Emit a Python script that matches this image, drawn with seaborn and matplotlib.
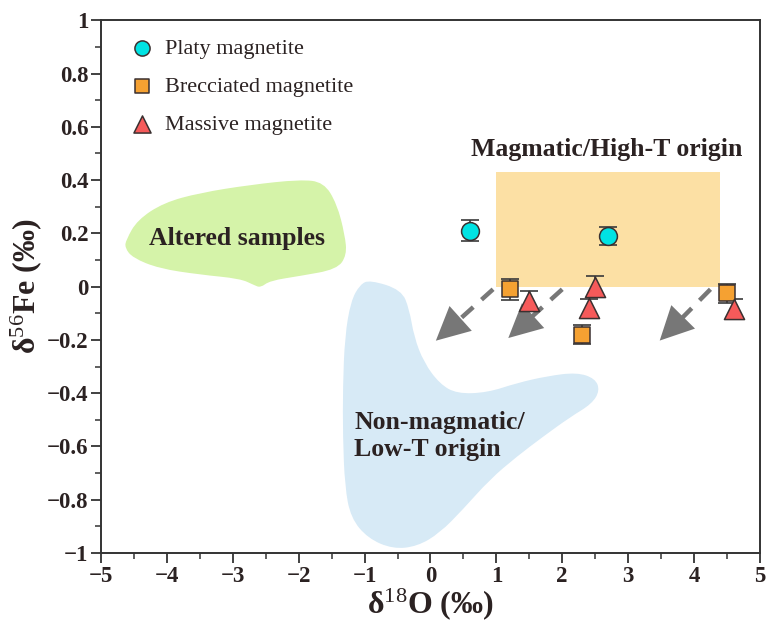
import numpy as np
import pandas as pd
import matplotlib
matplotlib.use("Agg")
import matplotlib.pyplot as plt
from matplotlib.patches import PathPatch, Rectangle
from matplotlib.path import Path
import seaborn as sns

# ---- data ----
platy_x = [0.6, 2.7]
platy_y = [0.21, 0.19]
platy_err = [0.04, 0.035]

brecc_x = [1.2, 2.3, 4.5]
brecc_y = [-0.01, -0.18, -0.025]
brecc_err = [0.04, 0.035, 0.035]

massive_x = [1.5, 2.4, 2.5, 4.6]
massive_y = [-0.053, -0.08, 0.0, -0.083]
massive_err = [0.035, 0.035, 0.04, 0.035]

series_names = ["Platy magnetite", "Brecciated magnetite", "Massive magnetite"]

# field outlines (δ18O, δ56Fe), used as control points of a smooth closed curve
altered_x = [-4.62, -4.45, -4.05, -3.50, -2.74, -1.98, -1.62, -1.42, -1.30, -1.27,
             -1.42, -1.98, -2.44, -2.58, -2.68, -2.89, -3.50, -4.12, -4.52, -4.64]
altered_y = [0.176, 0.250, 0.315, 0.352, 0.382, 0.402, 0.392, 0.310, 0.195, 0.118,
             0.065, 0.040, 0.022, -0.004, 0.006, 0.030, 0.045, 0.068, 0.108, 0.146]

lowt_x = [-0.92, -0.44, -0.32, -0.25, -0.10, 0.14, 0.40, 0.86, 1.31, 1.77, 2.22,
          2.50, 2.57, 2.45, 2.12, 1.71, 1.31, 0.90, 0.49, 0.14, -0.20, -0.57,
          -0.95, -1.21, -1.30, -1.33, -1.33, -1.30, -1.21, -1.07]
lowt_y = [0.025, -0.012, -0.086, -0.188, -0.285, -0.365, -0.402, -0.398, -0.362,
          -0.336, -0.322, -0.345, -0.390, -0.440, -0.490, -0.563, -0.638, -0.724,
          -0.837, -0.925, -0.975, -0.985, -0.945, -0.868, -0.750, -0.563, -0.375,
          -0.188, -0.055, 0.008]

# magmatic box: x range and y range
magmatic_x = [1.0, 4.4]
magmatic_y = [0.0, 0.43]

# arrows: start and end points
arrow_start_x = [0.95, 2.0, 4.25]
arrow_start_y = [-0.01, -0.01, -0.01]
arrow_end_x = [0.05, 1.15, 3.45]
arrow_end_y = [-0.21, -0.20, -0.21]


def smooth_closed_path(xs, ys):
    """Closed quadratic B-spline through the midpoints of the given polygon."""
    pts = np.column_stack([xs, ys])
    mids = (pts + np.roll(pts, -1, axis=0)) / 2.0
    verts = [mids[-1]]
    codes = [Path.MOVETO]
    for p, m in zip(pts, mids):
        verts += [p, m]
        codes += [Path.CURVE3, Path.CURVE3]
    verts.append(mids[-1])
    codes.append(Path.CLOSEPOLY)
    return Path(np.array(verts), codes)


def fmt_tick(v):
    v = round(float(v), 1) + 0.0
    return f"{v:g}".replace("-", "\u2212")


# ---- styling ----
sns.set_theme(style="ticks")
plt.rcParams["font.family"] = ["Liberation Serif", "DejaVu Serif"]
plt.rcParams["mathtext.fontset"] = "custom"
plt.rcParams["mathtext.rm"] = "Liberation Serif"
plt.rcParams["mathtext.it"] = "Liberation Serif"
plt.rcParams["mathtext.bf"] = "Liberation Serif:bold"

ink = "#2b2222"
fig = plt.figure(figsize=(7.66, 6.32), dpi=100)
ax = fig.add_axes([0.132, 0.125, 0.860, 0.843])

# fields
ax.add_patch(PathPatch(smooth_closed_path(altered_x, altered_y),
                       facecolor="#d5f3a9", edgecolor="none", zorder=1))
ax.add_patch(PathPatch(smooth_closed_path(lowt_x, lowt_y),
                       facecolor="#d7eaf6", edgecolor="none", zorder=1))
ax.add_patch(Rectangle((magmatic_x[0], magmatic_y[0]),
                       magmatic_x[1] - magmatic_x[0], magmatic_y[1] - magmatic_y[0],
                       facecolor="#fce0a4", edgecolor="none", zorder=1))

# dashed arrows
arrow_col = "#777777"
for sx, sy, ex, ey in zip(arrow_start_x, arrow_start_y, arrow_end_x, arrow_end_y):
    fx = sx + (ex - sx) * 0.8
    fy = sy + (ey - sy) * 0.8
    ax.plot([sx, fx], [sy, fy], color=arrow_col, lw=3.2, ls=(0, (3.5, 2.5)),
            solid_capstyle="butt", zorder=2)
    ax.annotate("", xy=(ex, ey), xytext=(fx, fy),
                arrowprops=dict(arrowstyle="-|>,head_length=1.2,head_width=0.6",
                                color=arrow_col, lw=0, mutation_scale=20),
                zorder=2)

# error bars
err_kw = dict(fmt="none", ecolor="#3a3a3a", elinewidth=1.2, capsize=6.5,
              capthick=1.2, zorder=3)
ax.errorbar(platy_x, platy_y, yerr=platy_err, **err_kw)
ax.errorbar(brecc_x, brecc_y, yerr=brecc_err, **err_kw)
ax.errorbar(massive_x, massive_y, yerr=massive_err, **err_kw)

# points
df = pd.concat([
    pd.DataFrame({"x": platy_x, "y": platy_y, "type": series_names[0]}),
    pd.DataFrame({"x": brecc_x, "y": brecc_y, "type": series_names[1]}),
    pd.DataFrame({"x": massive_x, "y": massive_y, "type": series_names[2]}),
])
palette = {series_names[0]: "#00e3e3", series_names[1]: "#f5a132",
           series_names[2]: "#f55a5a"}
markers = {series_names[0]: "o", series_names[1]: "s", series_names[2]: "^"}
sizes = {series_names[0]: 165, series_names[1]: 130, series_names[2]: 210}
for name in series_names:
    sub = df[df["type"] == name]
    sns.scatterplot(data=sub, x="x", y="y", color=palette[name], marker=markers[name],
                    s=sizes[name], edgecolor="#3a3030", linewidth=1.1, ax=ax,
                    label=name, zorder=4)

# labels on fields
field_fs = 18.5
ax.text(-2.94, 0.18, "Altered samples", fontsize=field_fs, fontweight="bold",
        color=ink, ha="center", va="center", zorder=5)
ax.text(2.68, 0.515, "Magmatic/High-T origin", fontsize=field_fs, fontweight="bold",
        color=ink, ha="center", va="center", zorder=5)
ax.text(-1.16, -0.56, "Non-magmatic/\nLow-T origin", fontsize=field_fs,
        fontweight="bold", color=ink, ha="left", va="center", linespacing=1.25,
        zorder=5)

# axes
x_major = np.arange(-5, 6, 1)
y_major = np.round(np.arange(-1, 1.01, 0.2), 1)
ax.set_xlim(-5, 5)
ax.set_ylim(-1, 1)
ax.set_xticks(x_major)
ax.set_yticks(y_major)
ax.set_xticks(np.arange(-5, 5.01, 0.5), minor=True)
ax.set_yticks(np.arange(-1, 1.01, 0.1), minor=True)
ax.set_xticklabels([fmt_tick(v) for v in x_major])
ax.set_yticklabels([fmt_tick(v) for v in y_major])
ax.tick_params(which="major", direction="out", length=7, width=1.3, color="#333333",
               labelsize=16.5, labelcolor=ink, pad=2)
ax.tick_params(which="minor", direction="out", length=4, width=1.1, color="#333333")
for lab in ax.get_xticklabels() + ax.get_yticklabels():
    lab.set_fontweight("bold")
for sp in ax.spines.values():
    sp.set_visible(True)
    sp.set_linewidth(1.4)
    sp.set_color("#333333")

ax.set_xlabel("δ$^{18}$O (‰)", fontsize=23, fontweight="bold", color=ink, labelpad=0)
ax.set_ylabel("δ$^{56}$Fe (‰)", fontsize=23, fontweight="bold", color=ink, labelpad=2)

handles, labels = ax.get_legend_handles_labels()
leg = ax.legend(handles, labels, loc="upper left", bbox_to_anchor=(0.012, 0.995),
                frameon=False, fontsize=16, handletextpad=0.2, labelspacing=0.78,
                markerscale=0.85, borderaxespad=0.3, handlelength=1.6)
for t in leg.get_texts():
    t.set_color(ink)

fig.savefig("out.png", dpi=100)
